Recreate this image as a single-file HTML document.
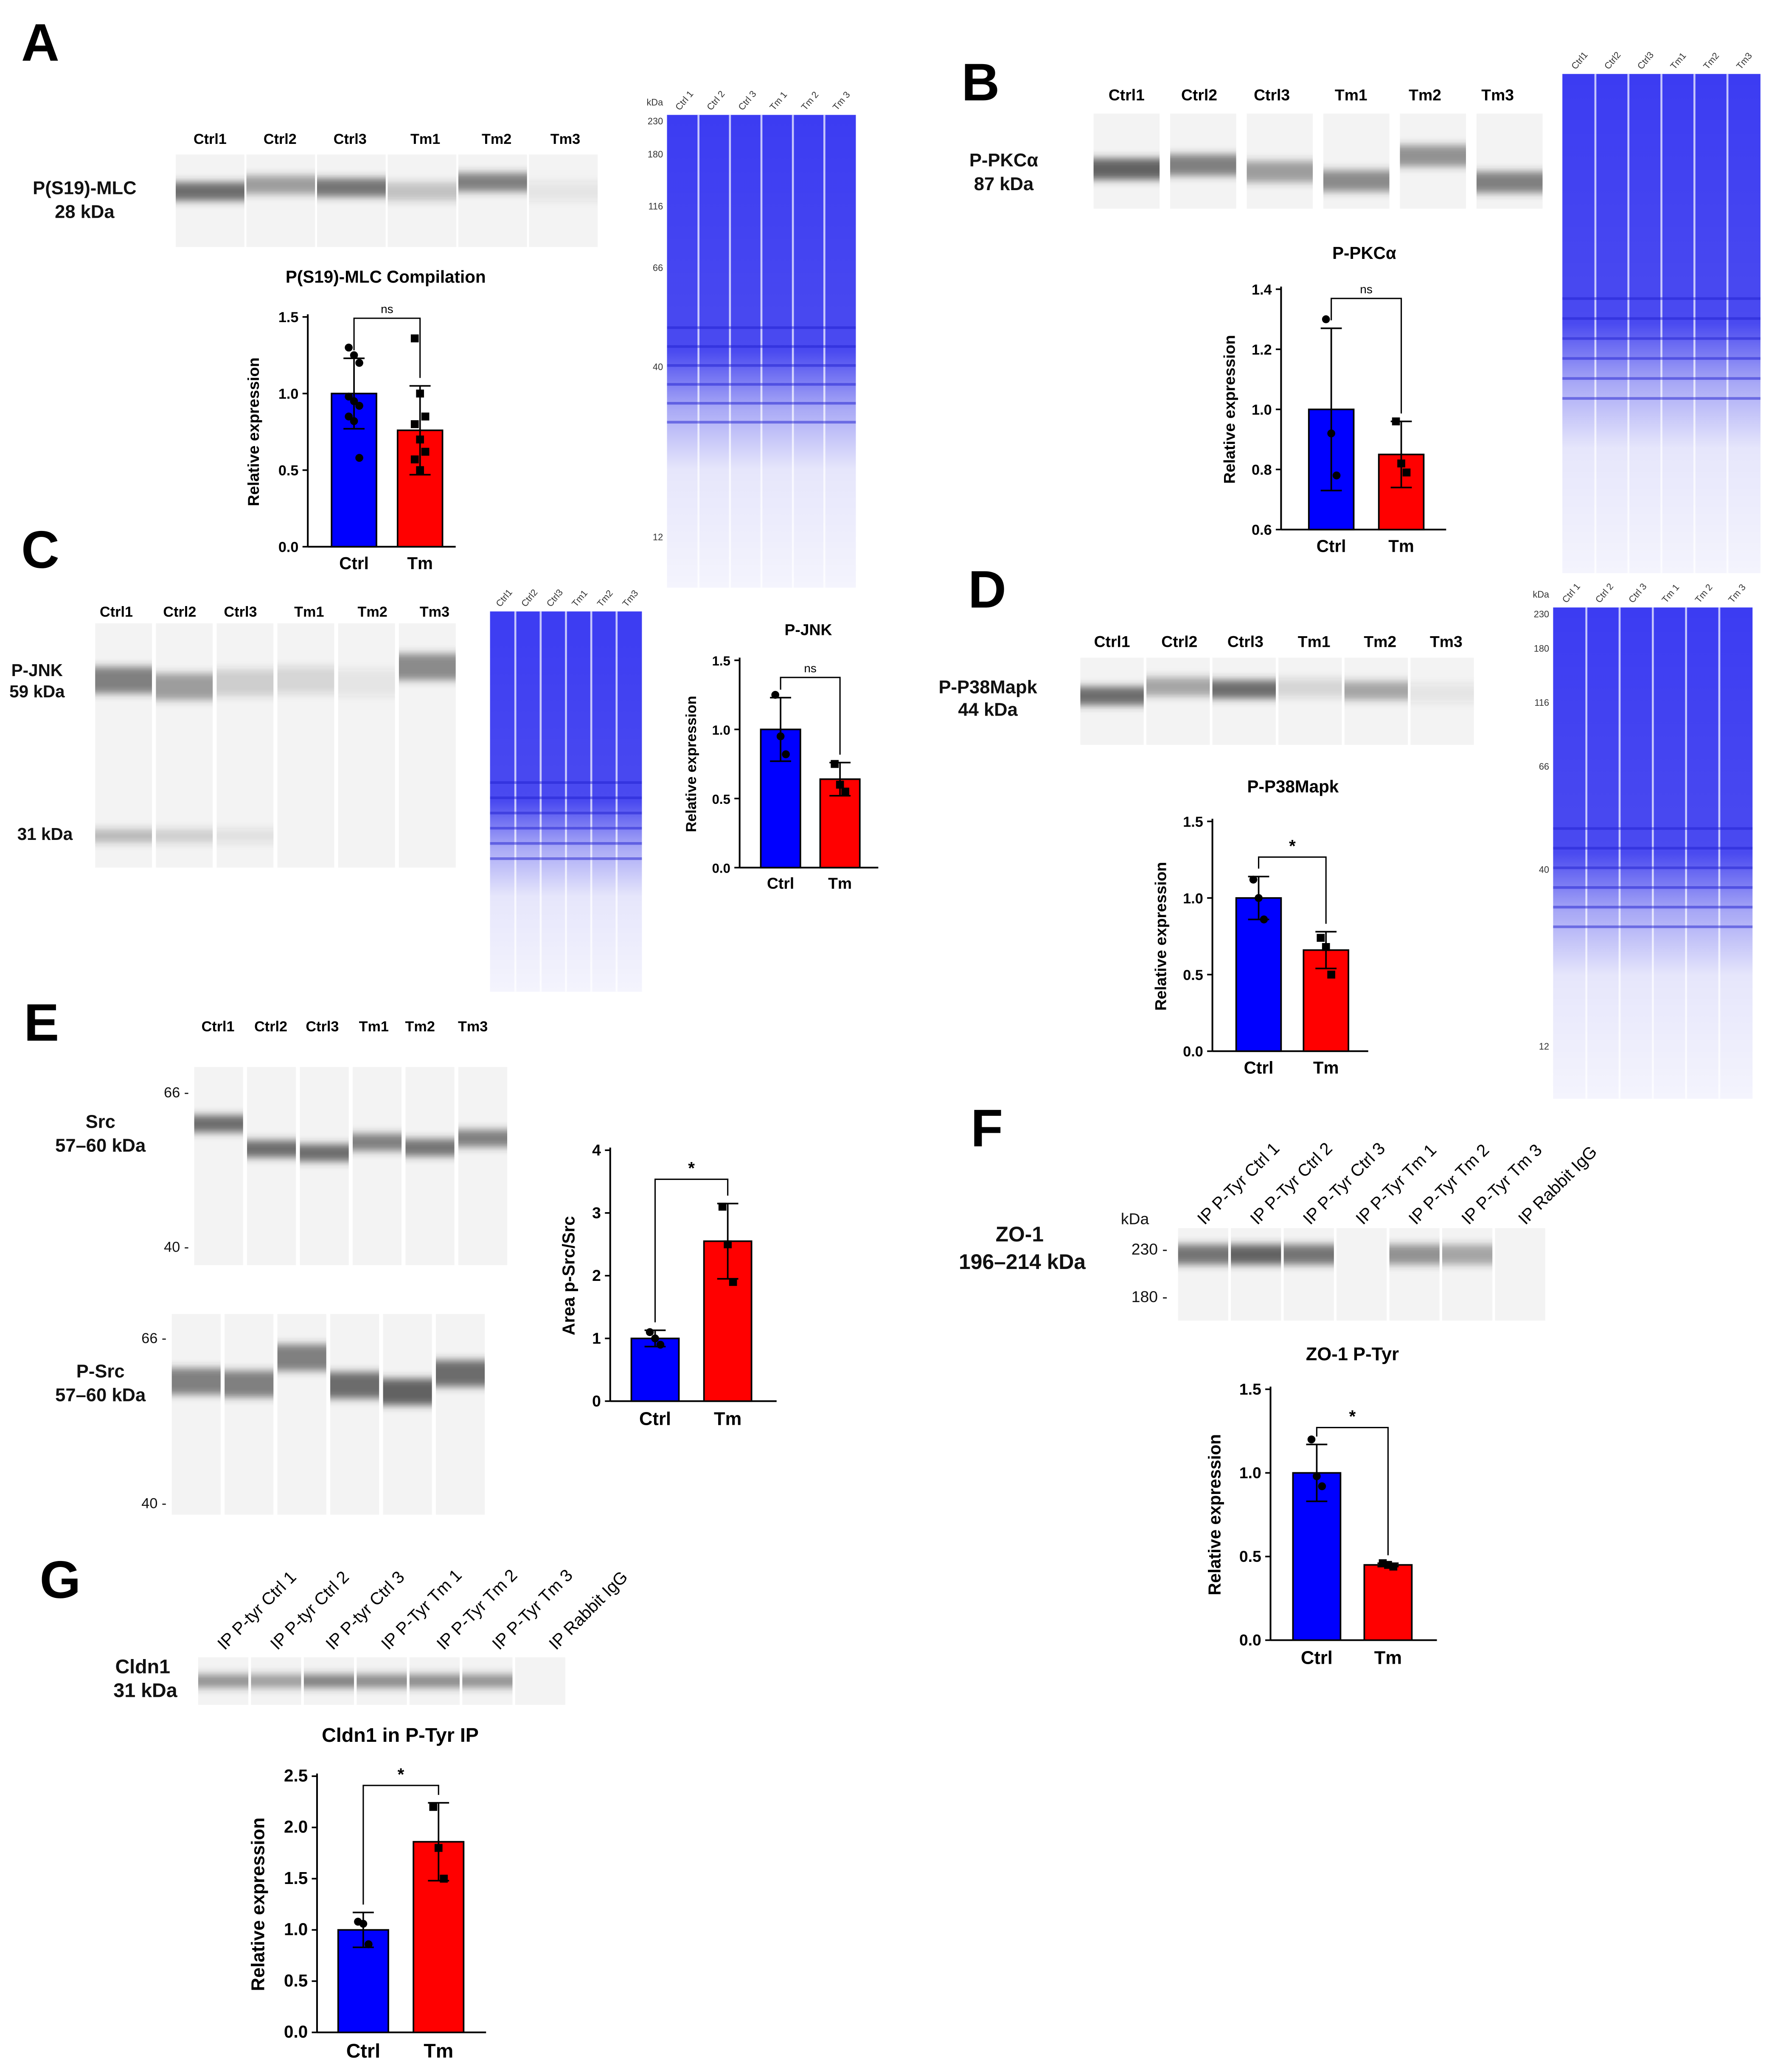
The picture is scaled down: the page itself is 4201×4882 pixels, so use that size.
<!DOCTYPE html>
<html><head><meta charset="utf-8"><style>
html,body{margin:0;padding:0;background:#fff;}
svg{display:block;font-family:"Liberation Sans",Arial,sans-serif;}
</style></head><body>
<svg id="fig" width="4201" height="4882" viewBox="0 0 1350 1569" xmlns="http://www.w3.org/2000/svg">
<defs>
<filter id="blur" x="-20%" y="-200%" width="140%" height="500%"><feGaussianBlur stdDeviation="0 3"/></filter>
<linearGradient id="blueg" x1="0" y1="0" x2="0" y2="1">
<stop offset="0" stop-color="#3c3cf2"/><stop offset="0.5" stop-color="#4a4af0"/><stop offset="0.62" stop-color="#a8a8f6"/><stop offset="0.75" stop-color="#e6e6fb"/><stop offset="1" stop-color="#f4f4fd"/></linearGradient>
</defs>
<g id="root"></g>
</svg>
<script>
// ---- Chart data ----
const aCats=["Ctrl","Tm"]; const aValues=[1.0,0.76]; const aErrors=[0.23,0.29];
const aPtsCtrl=[1.3,1.25,1.2,0.98,0.95,0.92,0.85,0.82,0.58]; const aPtsTm=[1.36,1.0,0.85,0.8,0.7,0.62,0.57,0.5];
const aTicks=[0,0.5,1.0,1.5];
const bCats=["Ctrl","Tm"]; const bValues=[1.0,0.85]; const bErrors=[0.27,0.11];
const bPtsCtrl=[1.3,0.92,0.78]; const bPtsTm=[0.96,0.82,0.79]; const bTicks=[0.6,0.8,1.0,1.2,1.4];
const cCats=["Ctrl","Tm"]; const cValues=[1.0,0.64]; const cErrors=[0.23,0.12];
const cPtsCtrl=[1.25,0.95,0.82]; const cPtsTm=[0.75,0.6,0.55]; const cTicks=[0,0.5,1.0,1.5];
const dCats=["Ctrl","Tm"]; const dValues=[1.0,0.66]; const dErrors=[0.14,0.12];
const dPtsCtrl=[1.12,1.0,0.86]; const dPtsTm=[0.74,0.68,0.5]; const dTicks=[0,0.5,1.0,1.5];
const eCats=["Ctrl","Tm"]; const eValues=[1.0,2.55]; const eErrors=[0.13,0.6];
const ePtsCtrl=[1.1,1.0,0.9]; const ePtsTm=[3.1,2.5,1.9]; const eTicks=[0,1,2,3,4];
const fCats=["Ctrl","Tm"]; const fValues=[1.0,0.45]; const fErrors=[0.17,0.01];
const fPtsCtrl=[1.2,0.98,0.92]; const fPtsTm=[0.46,0.45,0.44]; const fTicks=[0,0.5,1.0,1.5];
const gCats=["Ctrl","Tm"]; const gValues=[1.0,1.86]; const gErrors=[0.17,0.38];
const gPtsCtrl=[1.08,1.06,0.86]; const gPtsTm=[2.2,1.8,1.5]; const gTicks=[0,0.5,1.0,1.5,2.0,2.5];

const NS="http://www.w3.org/2000/svg";
const root=document.getElementById('root');
function el(tag,attrs,parent,txt){const e=document.createElementNS(NS,tag);for(const k in attrs)e.setAttribute(k,attrs[k]);if(txt!==undefined)e.textContent=txt;(parent||root).appendChild(e);return e;}
function txt(x,y,s,size,opts,name){opts=opts||{};const t=el('text',Object.assign({x:x,y:y,'font-size':size,'font-weight':opts.w||'bold','text-anchor':opts.a||'middle',fill:'#111'},opts.t?{transform:opts.t}:{}),null,s);

return t;}

function chart(id,cfg,cats,vals,errs,p0,p1,ticks){
 const g=el('g',{});
 
 
 const lo=ticks[0],hi=ticks[ticks.length-1];
 const y=v=>cfg.y0-(v-lo)/(hi-lo)*(cfg.y0-cfg.y1);
 const ax=el('line',{x1:cfg.ax,y1:cfg.y1-2,x2:cfg.ax,y2:cfg.y0,stroke:'#000','stroke-width':1.3},g);
 
 const xa=el('line',{x1:cfg.ax,y1:cfg.y0,x2:cfg.xend,y2:cfg.y0,stroke:'#000','stroke-width':1.3},g);
 
 ticks.forEach(t=>{el('line',{x1:cfg.ax-4,y1:y(t),x2:cfg.ax,y2:y(t),stroke:'#000','stroke-width':1.2},g);
  const l=el('text',{x:cfg.ax-7,y:y(t)+4,'font-size':cfg.fs,'font-weight':'bold','text-anchor':'end'},g,cfg.fmt?cfg.fmt(t):t.toFixed(1));
  });
 const cols=['#0000ff','#ff0000'];const pts=[p0,p1];
 cats.forEach((c,i)=>{const cx=cfg.cx[i];
  const b=el('rect',{x:cx-cfg.bw/2,y:y(vals[i]),width:cfg.bw,height:cfg.y0-y(vals[i]),fill:cols[i],stroke:'#000','stroke-width':1.2},g);
  
  const top=vals[i]+errs[i];
  el('line',{x1:cx,y1:y(vals[i]),x2:cx,y2:y(top),stroke:'#000','stroke-width':1.2},g);
  el('line',{x1:cx-8,y1:y(top),x2:cx+8,y2:y(top),stroke:'#000','stroke-width':1.2},g);
  const bot=Math.max(lo,vals[i]-errs[i]);
  el('line',{x1:cx,y1:y(vals[i]),x2:cx,y2:y(bot),stroke:'#000','stroke-width':1.2},g);
  el('line',{x1:cx-8,y1:y(bot),x2:cx+8,y2:y(bot),stroke:'#000','stroke-width':1.2},g);
  pts[i].forEach((v,j)=>{const dx=((j%3)-1)*4;
   const m=i==0?el('circle',{cx:cx+dx,cy:y(v),r:3,fill:'#000'},g):el('rect',{x:cx+dx-3,y:y(v)-3,width:6,height:6,fill:'#000'},g);
   });
  const l=el('text',{x:cx,y:cfg.y0+cfg.fs+6,'font-size':cfg.fs+2,'font-weight':'bold','text-anchor':'middle'},g,c);
  
 });
 const yl=el('text',{x:0,y:0,'font-size':cfg.fs+1,'font-weight':'bold','text-anchor':'middle',transform:`translate(${cfg.ax-cfg.ylOff},${(cfg.y0+cfg.y1)/2}) rotate(-90)`},g,cfg.ylabel||'Relative expression');
 
 if(cfg.title){const t=el('text',{x:cfg.tx,y:cfg.ty,'font-size':cfg.fs+2,'font-weight':'bold','text-anchor':'middle'},g,cfg.title);
  }
 const sy=cfg.sy,h=y(Math.max(vals[0]+errs[0],vals[1]+errs[1]));
 el('polyline',{points:`${cfg.cx[0]},${y(vals[0]+errs[0])-6} ${cfg.cx[0]},${sy} ${cfg.cx[1]},${sy} ${cfg.cx[1]},${y(vals[1]+errs[1])-6}`,fill:'none',stroke:'#000','stroke-width':1},g);
 const s=el('text',{x:(cfg.cx[0]+cfg.cx[1])/2,y:sy-4,'font-size':cfg.sig=='ns'?9:13,'font-weight':cfg.sig=='ns'?'normal':'bold','text-anchor':'middle'},g,cfg.sig);
 
}
chart('a',{ax:233,y0:414,y1:240,xend:345,cx:[268,318],bw:34,fs:11,ylOff:37,title:'P(S19)-MLC Compilation',tx:292,ty:214,sig:'ns',sy:241},aCats,aValues,aErrors,aPtsCtrl,aPtsTm,aTicks);
chart('b',{ax:970,y0:401,y1:219,xend:1095,cx:[1008,1061],bw:34,fs:11,ylOff:35,title:'P-PKCα',tx:1033,ty:196,sig:'ns',sy:226},bCats,bValues,bErrors,bPtsCtrl,bPtsTm,bTicks);
chart('c',{ax:560,y0:657,y1:500,xend:665,cx:[591,636],bw:30,fs:10,ylOff:33,title:'P-JNK',tx:612,ty:481,sig:'ns',sy:513},cCats,cValues,cErrors,cPtsCtrl,cPtsTm,cTicks);
chart('d',{ax:918,y0:796,y1:622,xend:1036,cx:[953,1004],bw:34,fs:11,ylOff:35,title:'P-P38Mapk',tx:979,ty:600,sig:'*',sy:649},dCats,dValues,dErrors,dPtsCtrl,dPtsTm,dTicks);
chart('e',{ax:462,y0:1061,y1:871,xend:588,cx:[496,551],bw:36,fs:12,ylOff:27,ylabel:'Area p-Src/Src',fmt:t=>String(t),sig:'*',sy:893},eCats,eValues,eErrors,ePtsCtrl,ePtsTm,eTicks);
chart('f',{ax:962,y0:1242,y1:1052,xend:1088,cx:[997,1051],bw:36,fs:12,ylOff:38,title:'ZO-1 P-Tyr',tx:1024,ty:1030,sig:'*',sy:1081},fCats,fValues,fErrors,fPtsCtrl,fPtsTm,fTicks);
chart('g',{ax:240,y0:1539,y1:1345,xend:368,cx:[275,332],bw:38,fs:13,ylOff:40,title:'Cldn1 in P-Tyr IP',tx:303,ty:1319,sig:'*',sy:1352},gCats,gValues,gErrors,gPtsCtrl,gPtsTm,gTicks);

// panel letters
[['A',16,46],['B',728,76],['C',16,430],['D',733,460],['E',18,788],['F',735,868],['G',30,1210]].forEach(p=>{
 const t=el('text',{x:p[1],y:p[2],'font-size':40,'font-weight':'bold'},null,p[0]);
 });

// gel strips
function gel(name,x,y,lw,h,gap,bandYs,ints,bh){
 const g=el('g',{});
 bandYs.forEach((by,i)=>{const lx=x+i*(lw+gap);
  el('rect',{x:lx,y:y,width:lw,height:h,fill:'#f3f3f3'},g);
  if(ints[i]>0){const b=el('rect',{x:lx,y:by-bh/2,width:lw,height:bh,fill:'#333','fill-opacity':ints[i],filter:'url(#blur)'},g);
   }});
}
function lanes(labels,xs,y,size,rot,name){labels.forEach((l,i)=>{const t=el('text',{x:xs[i],y:y,'font-size':size,'font-weight':rot?'normal':'bold','text-anchor':rot?'start':'middle',transform:rot?`rotate(${rot} ${xs[i]} ${y})`:''},null,l);
 });}
const L6=["Ctrl1","Ctrl2","Ctrl3","Tm1","Tm2","Tm3"];
// A
gel('gel-a',133,117,52,70,1.5,[145,140,142,145,138,145],[0.7,0.45,0.65,0.25,0.6,0.08],14);
lanes(L6,[159,212,265,322,376,428],109,11,0,'lane-label');
txt(64,147,'P(S19)-MLC',14,{},'protein-label');txt(64,165,'28 kDa',14,{},'mw-label');
// B
gel('gel-b',828,86,50,72,8,[128,125,130,137,118,138],[0.75,0.6,0.45,0.55,0.5,0.6],16);
lanes(L6,[853,908,963,1023,1079,1134],76,12,0,'lane-label');
txt(760,126,'P-PKCα',14,{},'protein-label');txt(760,144,'87 kDa',14,{},'mw-label');
// C
gel('gel-c',72,472,43,185,3,[515,520,517,515,517,505],[0.6,0.45,0.2,0.15,0.08,0.55],20);
gel('gel-c2',72,620,43,0,3,[633,633,633,633,633,633],[0.3,0.2,0.1,0,0,0],10);
lanes(L6,[88,136,182,234,282,329],467,11,0,'lane-label');
txt(28,512,'P-JNK',13,{},'protein-label');txt(28,528,'59 kDa',13,{},'mw-label');txt(34,636,'31 kDa',13,{},'mw-label');
// D
gel('gel-d',818,498,48,66,2,[527,520,522,521,523,525],[0.7,0.4,0.7,0.15,0.4,0.08],14);
lanes(L6,[842,893,943,995,1045,1095],490,12,0,'lane-label');
txt(748,525,'P-P38Mapk',14,{},'protein-label');txt(748,542,'44 kDa',14,{},'mw-label');
// E
gel('gel-e1',147,808,37,150,3,[851,870,873,865,869,862],[0.7,0.7,0.7,0.6,0.65,0.6],13);
gel('gel-e2',130,995,37,152,3,[1046,1048,1028,1049,1054,1040],[0.6,0.6,0.6,0.7,0.75,0.7],20);
lanes(L6,[165,205,244,283,318,358],781,11,0,'lane-label');
txt(76,854,'Src',14,{},'protein-label');txt(76,872,'57–60 kDa',14,{},'mw-label');
txt(76,1043,'P-Src',14,{},'protein-label');txt(76,1061,'57–60 kDa',14,{},'mw-label');
[['66 -',143,831],['40 -',143,948],['66 -',126,1017],['40 -',126,1142]].forEach(m=>txt(m[1],m[2],m[0],11,{w:'normal',a:'end'},'mw-marker'));
// F
gel('gel-f',892,930,38,70,2,[950,950,950,950,950,950,950],[0.65,0.75,0.65,0,0.5,0.4,0],15);
lanes(["IP P-Tyr Ctrl 1","IP P-Tyr Ctrl 2","IP P-Tyr Ctrl 3","IP P-Tyr Tm 1","IP P-Tyr Tm 2","IP P-Tyr Tm 3","IP Rabbit IgG"],[912,952,992,1032,1072,1112,1155],928,13,-45,'lane-label');
txt(772,940,'ZO-1',16,{},'protein-label');txt(774,961,'196–214 kDa',16,{},'mw-label');
[['kDa',870,927],['230 -',884,950],['180 -',884,986]].forEach(m=>txt(m[1],m[2],m[0],12,{w:'normal',a:'end'},'mw-marker'));
// G
gel('gel-g',150,1255,38,36,2,[1273,1273,1273,1273,1273,1273,1273],[0.5,0.45,0.6,0.55,0.55,0.5,0],10);
lanes(["IP P-tyr Ctrl 1","IP P-tyr Ctrl 2","IP P-tyr Ctrl 3","IP P-Tyr Tm 1","IP P-Tyr Tm 2","IP P-Tyr Tm 3","IP Rabbit IgG"],[170,210,252,294,336,378,421],1250,13,-45,'lane-label');
txt(108,1267,'Cldn1',15,{},'protein-label');txt(110,1285,'31 kDa',15,{},'mw-label');

// blue total protein gels
function blue(name,x,y,w,h,n,markers,labels){
 const g=el('g',{});
 el('rect',{x:x,y:y,width:w,height:h,fill:'url(#blueg)'},g);
 const lw=w/n;for(let i=1;i<n;i++)el('line',{x1:x+i*lw,y1:y,x2:x+i*lw,y2:y+h,stroke:'#fff','stroke-width':1.5,'stroke-opacity':0.7},g);
 for(let k=0;k<6;k++)el('line',{x1:x,y1:y+h*(0.45+k*0.04),x2:x+w,y2:y+h*(0.45+k*0.04),stroke:'#2020d0','stroke-width':2,'stroke-opacity':0.5},g);
 markers.forEach(m=>{const t=el('text',{x:x-3,y:y+m[1]*h,'font-size':7,'text-anchor':'end',fill:'#333'},g,m[0]);});
 labels.forEach((l,i)=>{const t=el('text',{x:x+lw*(i+0.4),y:y-3,'font-size':7,fill:'#333',transform:`rotate(-50 ${x+lw*(i+0.4)} ${y-3})`},g,l);});
}
const mk=[['kDa',-0.02],['230',0.02],['180',0.09],['116',0.2],['66',0.33],['40',0.54],['12',0.9]];
blue('total-protein-a',505,87,143,358,6,mk,['Ctrl 1','Ctrl 2','Ctrl 3','Tm 1','Tm 2','Tm 3']);
blue('total-protein-b',1183,56,150,378,6,[],['Ctrl1','Ctrl2','Ctrl3','Tm1','Tm2','Tm3']);
blue('total-protein-c',371,463,115,288,6,[],['Ctrl1','Ctrl2','Ctrl3','Tm1','Tm2','Tm3']);
blue('total-protein-d',1176,460,151,372,6,mk,['Ctrl 1','Ctrl 2','Ctrl 3','Tm 1','Tm 2','Tm 3']);
</script>
</body></html>
